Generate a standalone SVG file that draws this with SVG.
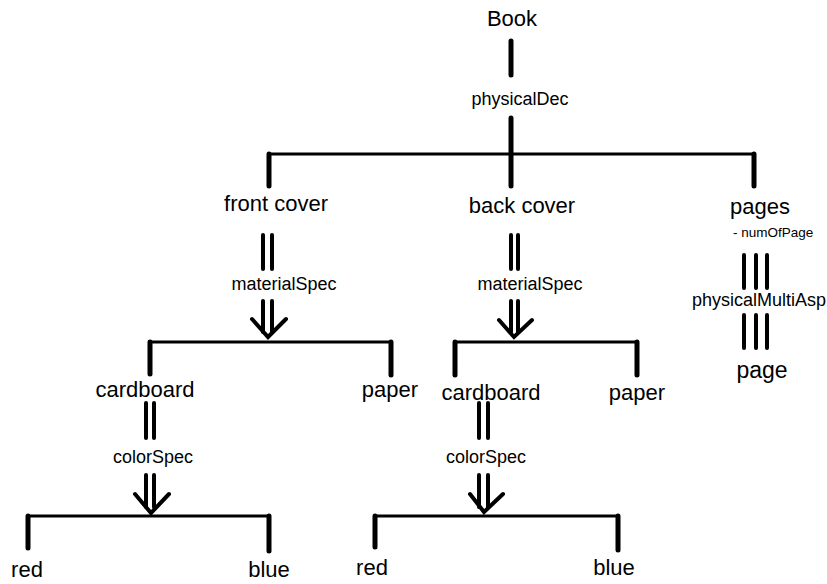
<svg xmlns="http://www.w3.org/2000/svg" width="827" height="584" viewBox="0 0 827 584">
<style>
text{font-family:"Liberation Sans",Arial,sans-serif;fill:#000;text-anchor:middle}
.n{font-size:22px}
.l{font-size:18px}
.s{font-size:13.5px;text-anchor:start}
.v{stroke:#000;stroke-width:5;stroke-linecap:round;fill:none}
.d{stroke:#000;stroke-width:4;stroke-linecap:round;fill:none}
.h{stroke:#000;stroke-width:3;fill:none}
</style>
<rect width="827" height="584" fill="#fff"/>
<g id="connectors">
<line class="v" x1="511" y1="41" x2="511" y2="75"/>
<line class="v" x1="511" y1="118" x2="511" y2="186"/>
<line class="h" x1="268" y1="154" x2="754" y2="154"/>
<line class="v" x1="269" y1="154" x2="269" y2="186"/>
<line class="v" x1="754" y1="154" x2="754" y2="186"/>
<line class="d" x1="263" y1="235" x2="263" y2="269"/>
<line class="d" x1="272" y1="235" x2="272" y2="269"/>
<line class="d" x1="263" y1="301" x2="263" y2="332"/>
<line class="d" x1="272" y1="301" x2="272" y2="332"/>
<polyline class="d" points="252,319 268,337 286,319"/>
<line class="h" x1="150" y1="342" x2="391" y2="342"/>
<line class="v" x1="150" y1="342" x2="150" y2="374"/>
<line class="v" x1="391" y1="342" x2="391" y2="375"/>
<line class="d" x1="511" y1="235" x2="511" y2="269"/>
<line class="d" x1="518" y1="235" x2="518" y2="269"/>
<line class="d" x1="511" y1="301" x2="511" y2="332"/>
<line class="d" x1="518" y1="301" x2="518" y2="332"/>
<polyline class="d" points="499,320 514,337 532,320"/>
<line class="h" x1="455" y1="342" x2="637" y2="342"/>
<line class="v" x1="455" y1="342" x2="455" y2="375"/>
<line class="v" x1="637" y1="342" x2="637" y2="375"/>
<line class="d" x1="146" y1="403" x2="146" y2="438"/>
<line class="d" x1="154" y1="403" x2="154" y2="438"/>
<line class="d" x1="146" y1="475" x2="146" y2="507"/>
<line class="d" x1="154" y1="475" x2="154" y2="507"/>
<polyline class="d" points="135,494 151,513 169,494"/>
<line class="h" x1="28" y1="516" x2="269" y2="516"/>
<line class="v" x1="28" y1="516" x2="28" y2="548"/>
<line class="v" x1="269" y1="516" x2="269" y2="551"/>
<line class="d" x1="479" y1="403" x2="479" y2="438"/>
<line class="d" x1="488" y1="403" x2="488" y2="438"/>
<line class="d" x1="479" y1="475" x2="479" y2="507"/>
<line class="d" x1="488" y1="475" x2="488" y2="507"/>
<polyline class="d" points="470,494 484,512 503,494"/>
<line class="h" x1="375" y1="516" x2="618" y2="516"/>
<line class="v" x1="375" y1="516" x2="375" y2="547"/>
<line class="v" x1="618" y1="516" x2="618" y2="550"/>
<line class="d" x1="744" y1="255" x2="744" y2="288"/>
<line class="d" x1="756" y1="255" x2="756" y2="288"/>
<line class="d" x1="767" y1="255" x2="767" y2="288"/>
<line class="d" x1="744" y1="315" x2="744" y2="348"/>
<line class="d" x1="756" y1="315" x2="756" y2="348"/>
<line class="d" x1="767" y1="315" x2="767" y2="348"/>
</g>
<g id="labels">
<text class="l" x="520" y="105">physicalDec</text>
<text class="l" x="284" y="290">materialSpec</text>
<text class="l" x="530" y="290">materialSpec</text>
<text class="l" x="153" y="463">colorSpec</text>
<text class="l" x="486" y="463">colorSpec</text>
<text class="l" x="759" y="306">physicalMultiAsp</text>
</g>
<g id="book"><text class="n" x="512" y="26">Book</text></g>
<g id="frontCover"><text class="n" x="276" y="211">front cover</text></g>
<g id="backCover"><text class="n" x="522" y="213">back cover</text></g>
<g id="pages"><text class="n" x="760" y="214">pages</text><text class="s" x="733" y="237">- numOfPage</text></g>
<g id="page"><text class="n" x="762" y="378" style="font-size:23px">page</text></g>
<g id="cardboard1"><text class="n" x="145" y="397">cardboard</text></g>
<g id="paper1"><text class="n" x="390" y="397">paper</text></g>
<g id="cardboard2"><text class="n" x="491" y="400">cardboard</text></g>
<g id="paper2"><text class="n" x="637" y="400">paper</text></g>
<g id="red1"><text class="n" x="27" y="577">red</text></g>
<g id="blue1"><text class="n" x="269" y="577">blue</text></g>
<g id="red2"><text class="n" x="372" y="575">red</text></g>
<g id="blue2"><text class="n" x="614" y="575">blue</text></g>
</svg>
